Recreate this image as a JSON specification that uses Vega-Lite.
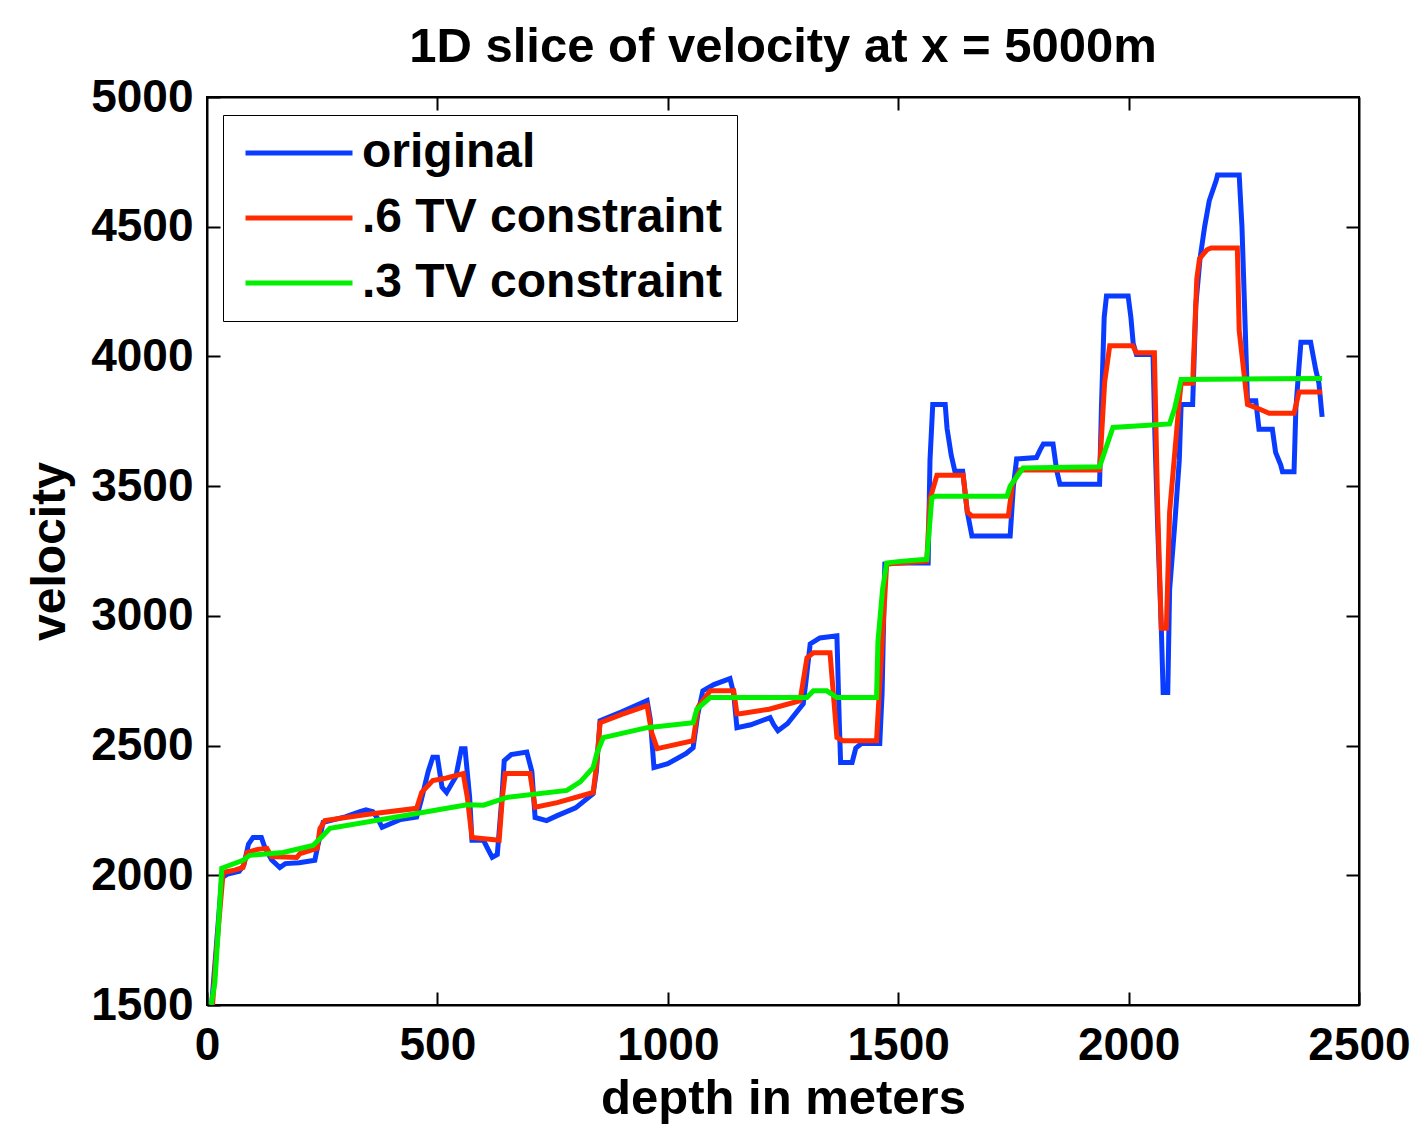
{
  "$schema": "https://vega.github.io/schema/vega-lite/v6.json",
  "width": 1152,
  "height": 908,
  "autosize": "none",
  "padding": {"left": 207, "top": 97, "right": 60, "bottom": 120},
  "background": "white",
  "title": {
    "text": "1D slice of velocity at x = 5000m",
    "font": "Liberation Sans",
    "fontSize": 49,
    "fontWeight": "bold",
    "color": "black",
    "anchor": "middle",
    "offset": 2
  },
  "config": {
    "view": {"stroke": "black", "strokeWidth": 2},
    "axis": {
      "grid": false,
      "domainColor": "black",
      "domainWidth": 2,
      "tickColor": "black",
      "tickWidth": 2,
      "tickSize": -13,
      "labelFont": "Liberation Sans",
      "labelFontSize": 46,
      "labelFontWeight": "bold",
      "labelColor": "black",
      "titleFont": "Liberation Sans",
      "titleFontSize": 48,
      "titleFontWeight": "bold",
      "titleColor": "black"
    },
    "legend": {
      "labelFont": "Liberation Sans",
      "labelFontSize": 48,
      "labelFontWeight": "bold",
      "labelColor": "black",
      "labelLimit": 0
    }
  },
  "datasets": {
    "original": [
      {"d":10,"v":1500,"s":"original"},{"d":20,"v":1720,"s":"original"},{"d":32,"v":1990,"s":"original"},{"d":45,"v":2005,"s":"original"},{"d":70,"v":2015,"s":"original"},{"d":80,"v":2040,"s":"original"},{"d":90,"v":2120,"s":"original"},{"d":100,"v":2146,"s":"original"},{"d":118,"v":2146,"s":"original"},{"d":125,"v":2110,"s":"original"},{"d":140,"v":2060,"s":"original"},{"d":158,"v":2030,"s":"original"},{"d":170,"v":2045,"s":"original"},{"d":200,"v":2048,"s":"original"},{"d":234,"v":2058,"s":"original"},{"d":240,"v":2110,"s":"original"},{"d":252,"v":2204,"s":"original"},{"d":300,"v":2225,"s":"original"},{"d":332,"v":2245,"s":"original"},{"d":345,"v":2252,"s":"original"},{"d":360,"v":2245,"s":"original"},{"d":370,"v":2220,"s":"original"},{"d":380,"v":2185,"s":"original"},{"d":420,"v":2215,"s":"original"},{"d":455,"v":2225,"s":"original"},{"d":465,"v":2290,"s":"original"},{"d":480,"v":2400,"s":"original"},{"d":490,"v":2455,"s":"original"},{"d":500,"v":2455,"s":"original"},{"d":510,"v":2340,"s":"original"},{"d":520,"v":2319,"s":"original"},{"d":540,"v":2380,"s":"original"},{"d":552,"v":2488,"s":"original"},{"d":560,"v":2488,"s":"original"},{"d":570,"v":2300,"s":"original"},{"d":575,"v":2135,"s":"original"},{"d":600,"v":2135,"s":"original"},{"d":610,"v":2100,"s":"original"},{"d":619,"v":2069,"s":"original"},{"d":630,"v":2080,"s":"original"},{"d":640,"v":2300,"s":"original"},{"d":645,"v":2442,"s":"original"},{"d":660,"v":2465,"s":"original"},{"d":694,"v":2475,"s":"original"},{"d":705,"v":2400,"s":"original"},{"d":712,"v":2223,"s":"original"},{"d":737,"v":2211,"s":"original"},{"d":760,"v":2230,"s":"original"},{"d":800,"v":2260,"s":"original"},{"d":838,"v":2315,"s":"original"},{"d":845,"v":2400,"s":"original"},{"d":853,"v":2596,"s":"original"},{"d":900,"v":2630,"s":"original"},{"d":955,"v":2673,"s":"original"},{"d":962,"v":2600,"s":"original"},{"d":970,"v":2415,"s":"original"},{"d":1000,"v":2430,"s":"original"},{"d":1040,"v":2470,"s":"original"},{"d":1055,"v":2492,"s":"original"},{"d":1065,"v":2620,"s":"original"},{"d":1076,"v":2711,"s":"original"},{"d":1100,"v":2735,"s":"original"},{"d":1135,"v":2758,"s":"original"},{"d":1143,"v":2700,"s":"original"},{"d":1150,"v":2569,"s":"original"},{"d":1180,"v":2580,"s":"original"},{"d":1222,"v":2608,"s":"original"},{"d":1230,"v":2580,"s":"original"},{"d":1239,"v":2557,"s":"original"},{"d":1260,"v":2585,"s":"original"},{"d":1294,"v":2661,"s":"original"},{"d":1300,"v":2750,"s":"original"},{"d":1309,"v":2892,"s":"original"},{"d":1330,"v":2915,"s":"original"},{"d":1367,"v":2923,"s":"original"},{"d":1372,"v":2600,"s":"original"},{"d":1375,"v":2435,"s":"original"},{"d":1400,"v":2435,"s":"original"},{"d":1408,"v":2490,"s":"original"},{"d":1420,"v":2508,"s":"original"},{"d":1460,"v":2508,"s":"original"},{"d":1465,"v":2700,"s":"original"},{"d":1471,"v":3200,"s":"original"},{"d":1500,"v":3204,"s":"original"},{"d":1565,"v":3204,"s":"original"},{"d":1569,"v":3600,"s":"original"},{"d":1575,"v":3815,"s":"original"},{"d":1602,"v":3815,"s":"original"},{"d":1606,"v":3723,"s":"original"},{"d":1615,"v":3620,"s":"original"},{"d":1623,"v":3557,"s":"original"},{"d":1640,"v":3557,"s":"original"},{"d":1650,"v":3400,"s":"original"},{"d":1660,"v":3308,"s":"original"},{"d":1743,"v":3308,"s":"original"},{"d":1750,"v":3500,"s":"original"},{"d":1757,"v":3605,"s":"original"},{"d":1800,"v":3610,"s":"original"},{"d":1808,"v":3640,"s":"original"},{"d":1815,"v":3662,"s":"original"},{"d":1836,"v":3662,"s":"original"},{"d":1844,"v":3560,"s":"original"},{"d":1851,"v":3507,"s":"original"},{"d":1937,"v":3507,"s":"original"},{"d":1941,"v":3800,"s":"original"},{"d":1947,"v":4150,"s":"original"},{"d":1952,"v":4233,"s":"original"},{"d":1999,"v":4233,"s":"original"},{"d":2005,"v":4150,"s":"original"},{"d":2010,"v":4050,"s":"original"},{"d":2017,"v":4007,"s":"original"},{"d":2053,"v":4007,"s":"original"},{"d":2057,"v":3700,"s":"original"},{"d":2063,"v":3349,"s":"original"},{"d":2071,"v":2950,"s":"original"},{"d":2075,"v":2705,"s":"original"},{"d":2085,"v":2705,"s":"original"},{"d":2089,"v":3100,"s":"original"},{"d":2100,"v":3349,"s":"original"},{"d":2110,"v":3600,"s":"original"},{"d":2114,"v":3815,"s":"original"},{"d":2139,"v":3815,"s":"original"},{"d":2146,"v":4200,"s":"original"},{"d":2155,"v":4377,"s":"original"},{"d":2165,"v":4500,"s":"original"},{"d":2175,"v":4600,"s":"original"},{"d":2190,"v":4678,"s":"original"},{"d":2193,"v":4699,"s":"original"},{"d":2240,"v":4699,"s":"original"},{"d":2246,"v":4500,"s":"original"},{"d":2252,"v":4171,"s":"original"},{"d":2258,"v":3829,"s":"original"},{"d":2276,"v":3829,"s":"original"},{"d":2283,"v":3719,"s":"original"},{"d":2312,"v":3719,"s":"original"},{"d":2319,"v":3630,"s":"original"},{"d":2330,"v":3582,"s":"original"},{"d":2334,"v":3555,"s":"original"},{"d":2359,"v":3555,"s":"original"},{"d":2363,"v":3800,"s":"original"},{"d":2370,"v":3966,"s":"original"},{"d":2374,"v":4055,"s":"original"},{"d":2395,"v":4055,"s":"original"},{"d":2406,"v":3950,"s":"original"},{"d":2413,"v":3897,"s":"original"},{"d":2420,"v":3767,"s":"original"}
    ],
    "tv6": [
      {"d":12,"v":1500,"s":".6 TV constraint"},{"d":20,"v":1700,"s":".6 TV constraint"},{"d":35,"v":2011,"s":".6 TV constraint"},{"d":60,"v":2020,"s":".6 TV constraint"},{"d":78,"v":2030,"s":".6 TV constraint"},{"d":87,"v":2088,"s":".6 TV constraint"},{"d":110,"v":2100,"s":".6 TV constraint"},{"d":130,"v":2104,"s":".6 TV constraint"},{"d":140,"v":2072,"s":".6 TV constraint"},{"d":195,"v":2069,"s":".6 TV constraint"},{"d":202,"v":2084,"s":".6 TV constraint"},{"d":239,"v":2104,"s":".6 TV constraint"},{"d":245,"v":2180,"s":".6 TV constraint"},{"d":256,"v":2211,"s":".6 TV constraint"},{"d":350,"v":2235,"s":".6 TV constraint"},{"d":455,"v":2258,"s":".6 TV constraint"},{"d":466,"v":2320,"s":".6 TV constraint"},{"d":490,"v":2365,"s":".6 TV constraint"},{"d":520,"v":2375,"s":".6 TV constraint"},{"d":556,"v":2392,"s":".6 TV constraint"},{"d":565,"v":2300,"s":".6 TV constraint"},{"d":575,"v":2146,"s":".6 TV constraint"},{"d":634,"v":2135,"s":".6 TV constraint"},{"d":641,"v":2300,"s":".6 TV constraint"},{"d":647,"v":2392,"s":".6 TV constraint"},{"d":701,"v":2392,"s":".6 TV constraint"},{"d":712,"v":2262,"s":".6 TV constraint"},{"d":760,"v":2280,"s":".6 TV constraint"},{"d":838,"v":2319,"s":".6 TV constraint"},{"d":845,"v":2420,"s":".6 TV constraint"},{"d":853,"v":2588,"s":".6 TV constraint"},{"d":900,"v":2620,"s":".6 TV constraint"},{"d":955,"v":2654,"s":".6 TV constraint"},{"d":965,"v":2550,"s":".6 TV constraint"},{"d":977,"v":2488,"s":".6 TV constraint"},{"d":1055,"v":2519,"s":".6 TV constraint"},{"d":1066,"v":2650,"s":".6 TV constraint"},{"d":1092,"v":2711,"s":".6 TV constraint"},{"d":1143,"v":2711,"s":".6 TV constraint"},{"d":1150,"v":2623,"s":".6 TV constraint"},{"d":1157,"v":2623,"s":".6 TV constraint"},{"d":1220,"v":2640,"s":".6 TV constraint"},{"d":1287,"v":2673,"s":".6 TV constraint"},{"d":1302,"v":2838,"s":".6 TV constraint"},{"d":1316,"v":2858,"s":".6 TV constraint"},{"d":1352,"v":2858,"s":".6 TV constraint"},{"d":1367,"v":2531,"s":".6 TV constraint"},{"d":1380,"v":2519,"s":".6 TV constraint"},{"d":1453,"v":2519,"s":".6 TV constraint"},{"d":1462,"v":2800,"s":".6 TV constraint"},{"d":1475,"v":3200,"s":".6 TV constraint"},{"d":1562,"v":3211,"s":".6 TV constraint"},{"d":1569,"v":3450,"s":".6 TV constraint"},{"d":1584,"v":3542,"s":".6 TV constraint"},{"d":1641,"v":3542,"s":".6 TV constraint"},{"d":1650,"v":3400,"s":".6 TV constraint"},{"d":1660,"v":3385,"s":".6 TV constraint"},{"d":1739,"v":3385,"s":".6 TV constraint"},{"d":1748,"v":3508,"s":".6 TV constraint"},{"d":1764,"v":3562,"s":".6 TV constraint"},{"d":1937,"v":3562,"s":".6 TV constraint"},{"d":1948,"v":3900,"s":".6 TV constraint"},{"d":1959,"v":4041,"s":".6 TV constraint"},{"d":2009,"v":4041,"s":".6 TV constraint"},{"d":2017,"v":4014,"s":".6 TV constraint"},{"d":2056,"v":4014,"s":".6 TV constraint"},{"d":2063,"v":3418,"s":".6 TV constraint"},{"d":2071,"v":2952,"s":".6 TV constraint"},{"d":2082,"v":2952,"s":".6 TV constraint"},{"d":2089,"v":3400,"s":".6 TV constraint"},{"d":2110,"v":3829,"s":".6 TV constraint"},{"d":2114,"v":3897,"s":".6 TV constraint"},{"d":2139,"v":3897,"s":".6 TV constraint"},{"d":2148,"v":4300,"s":".6 TV constraint"},{"d":2154,"v":4377,"s":".6 TV constraint"},{"d":2170,"v":4411,"s":".6 TV constraint"},{"d":2179,"v":4418,"s":".6 TV constraint"},{"d":2236,"v":4418,"s":".6 TV constraint"},{"d":2240,"v":4100,"s":".6 TV constraint"},{"d":2258,"v":3815,"s":".6 TV constraint"},{"d":2280,"v":3800,"s":".6 TV constraint"},{"d":2305,"v":3781,"s":".6 TV constraint"},{"d":2359,"v":3781,"s":".6 TV constraint"},{"d":2370,"v":3863,"s":".6 TV constraint"},{"d":2420,"v":3863,"s":".6 TV constraint"}
    ],
    "tv3": [
      {"d":9,"v":1500,"s":".3 TV constraint"},{"d":17,"v":1585,"s":".3 TV constraint"},{"d":24,"v":1777,"s":".3 TV constraint"},{"d":32,"v":2027,"s":".3 TV constraint"},{"d":78,"v":2058,"s":".3 TV constraint"},{"d":93,"v":2077,"s":".3 TV constraint"},{"d":165,"v":2088,"s":".3 TV constraint"},{"d":230,"v":2115,"s":".3 TV constraint"},{"d":250,"v":2150,"s":".3 TV constraint"},{"d":267,"v":2181,"s":".3 TV constraint"},{"d":455,"v":2238,"s":".3 TV constraint"},{"d":564,"v":2272,"s":".3 TV constraint"},{"d":600,"v":2270,"s":".3 TV constraint"},{"d":651,"v":2300,"s":".3 TV constraint"},{"d":781,"v":2327,"s":".3 TV constraint"},{"d":810,"v":2360,"s":".3 TV constraint"},{"d":838,"v":2415,"s":".3 TV constraint"},{"d":846,"v":2470,"s":".3 TV constraint"},{"d":860,"v":2531,"s":".3 TV constraint"},{"d":955,"v":2569,"s":".3 TV constraint"},{"d":1055,"v":2588,"s":".3 TV constraint"},{"d":1063,"v":2640,"s":".3 TV constraint"},{"d":1092,"v":2685,"s":".3 TV constraint"},{"d":1302,"v":2685,"s":".3 TV constraint"},{"d":1316,"v":2711,"s":".3 TV constraint"},{"d":1345,"v":2711,"s":".3 TV constraint"},{"d":1367,"v":2685,"s":".3 TV constraint"},{"d":1453,"v":2685,"s":".3 TV constraint"},{"d":1456,"v":2900,"s":".3 TV constraint"},{"d":1466,"v":3100,"s":".3 TV constraint"},{"d":1475,"v":3204,"s":".3 TV constraint"},{"d":1504,"v":3210,"s":".3 TV constraint"},{"d":1562,"v":3218,"s":".3 TV constraint"},{"d":1573,"v":3454,"s":".3 TV constraint"},{"d":1580,"v":3461,"s":".3 TV constraint"},{"d":1736,"v":3461,"s":".3 TV constraint"},{"d":1743,"v":3500,"s":".3 TV constraint"},{"d":1771,"v":3570,"s":".3 TV constraint"},{"d":1937,"v":3575,"s":".3 TV constraint"},{"d":1966,"v":3726,"s":".3 TV constraint"},{"d":2089,"v":3740,"s":".3 TV constraint"},{"d":2100,"v":3800,"s":".3 TV constraint"},{"d":2114,"v":3911,"s":".3 TV constraint"},{"d":2420,"v":3915,"s":".3 TV constraint"}
    ]
  },
  "layer": [
    {
      "data": {"name": "original"},
      "mark": {"type": "line", "strokeWidth": 5, "clip": true},
      "encoding": {
        "x": {"field": "d", "type": "quantitative", "scale": {"domain": [0, 2500], "nice": false, "zero": false},
              "axis": {"orient": "bottom", "values": [0, 500, 1000, 1500, 2000, 2500], "format": "d", "title": "depth in meters", "titleFontSize": 49, "labelPadding": 31, "titlePadding": 6, "labelFlush": false}},
        "y": {"field": "v", "type": "quantitative", "scale": {"domain": [1500, 5000], "nice": false, "zero": false},
              "axis": {"orient": "left", "values": [1500, 2000, 2500, 3000, 3500, 4000, 4500, 5000], "format": "d", "title": "velocity", "labelPadding": 27, "titlePadding": 16, "labelFlush": false}},
        "color": {"field": "s", "type": "nominal",
                  "scale": {"domain": ["original", ".6 TV constraint", ".3 TV constraint"], "range": ["#0a3cff", "#ff2a00", "#00f000"]},
                  "legend": {"title": null, "orient": "none", "legendX": 16, "legendY": 18, "symbolType": "stroke", "symbolSize": 11449, "symbolStrokeWidth": 5, "symbolOffset": 6, "clipHeight": 48, "labelOffset": 7, "rowPadding": 17, "padding": 14, "strokeColor": "black", "fillColor": "white", "cornerRadius": 0}}
      }
    },
    {
      "data": {"name": "tv6"},
      "mark": {"type": "line", "strokeWidth": 5, "clip": true},
      "encoding": {
        "x": {"field": "d", "type": "quantitative", "axis": {"orient": "top", "values": [500, 1000, 1500, 2000], "labels": false, "title": null}},
        "y": {"field": "v", "type": "quantitative", "axis": {"orient": "right", "values": [2000, 2500, 3000, 3500, 4000, 4500], "labels": false, "title": null}},
        "color": {"field": "s", "type": "nominal"}
      }
    },
    {
      "data": {"name": "tv3"},
      "mark": {"type": "line", "strokeWidth": 5, "clip": true},
      "encoding": {
        "x": {"field": "d", "type": "quantitative", "axis": null},
        "y": {"field": "v", "type": "quantitative", "axis": null},
        "color": {"field": "s", "type": "nominal"}
      }
    }
  ],
  "resolve": {"axis": {"x": "independent", "y": "independent"}}
}
